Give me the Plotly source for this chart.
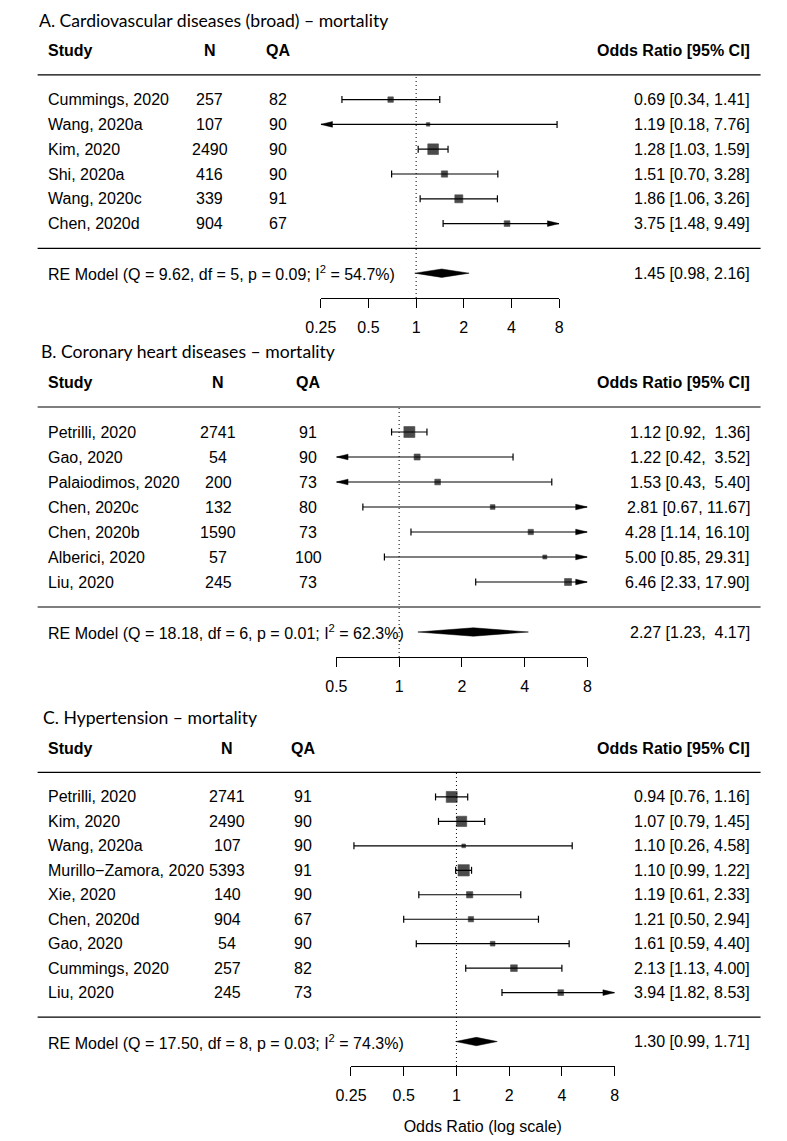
import math
import plotly.graph_objects as go

# ---------------- data ----------------
A_title = "A. Cardiovascular diseases (broad) – mortality"
A_study = ["Cummings, 2020", "Wang, 2020a", "Kim, 2020", "Shi, 2020a", "Wang, 2020c", "Chen, 2020d"]
A_n = [257, 107, 2490, 416, 339, 904]
A_qa = [82, 90, 90, 90, 91, 67]
A_or = [0.69, 1.19, 1.28, 1.51, 1.86, 3.75]
A_lo = [0.34, 0.18, 1.03, 0.70, 1.06, 1.48]
A_hi = [1.41, 7.76, 1.59, 3.28, 3.26, 9.49]
A_wt = [5.5, 3.5, 10.7, 6.3, 8.0, 5.7]          # relative study weight (box size)
A_re = [1.45, 0.98, 2.16]
A_stats = "Q = 9.62, df = 5, p = 0.09; I<sup>2</sup> = 54.7%"
A_ticks = [0.25, 0.5, 1, 2, 4, 8]
A_ticklab = ["0.25", "0.5", "1", "2", "4", "8"]

B_title = "B. Coronary heart diseases – mortality"
B_study = ["Petrilli, 2020", "Gao, 2020", "Palaiodimos, 2020", "Chen, 2020c", "Chen, 2020b", "Alberici, 2020", "Liu, 2020"]
B_n = [2741, 54, 200, 132, 1590, 57, 245]
B_qa = [91, 90, 73, 80, 73, 100, 73]
B_or = [1.12, 1.22, 1.53, 2.81, 4.28, 5.00, 6.46]
B_lo = [0.92, 0.42, 0.43, 0.67, 1.14, 0.85, 2.33]
B_hi = [1.36, 3.52, 5.40, 11.67, 16.10, 29.31, 17.90]
B_wt = [11.0, 6.0, 5.7, 4.7, 5.3, 4.0, 7.0]
B_re = [2.27, 1.23, 4.17]
B_stats = "Q = 18.18, df = 6, p = 0.01; I<sup>2</sup> = 62.3%"
B_ticks = [0.5, 1, 2, 4, 8]
B_ticklab = ["0.5", "1", "2", "4", "8"]

C_title = "C. Hypertension – mortality"
C_study = ["Petrilli, 2020", "Kim, 2020", "Wang, 2020a", "Murillo\u2212Zamora, 2020", "Xie, 2020",
           "Chen, 2020d", "Gao, 2020", "Cummings, 2020", "Liu, 2020"]
C_n = [2741, 2490, 107, 5393, 140, 904, 54, 257, 245]
C_qa = [91, 90, 90, 91, 90, 67, 90, 82, 73]
C_or = [0.94, 1.07, 1.10, 1.10, 1.19, 1.21, 1.61, 2.13, 3.94]
C_lo = [0.76, 0.79, 0.26, 0.99, 0.61, 0.50, 0.59, 1.13, 1.82]
C_hi = [1.16, 1.45, 4.58, 1.22, 2.33, 2.94, 4.40, 4.00, 8.53]
C_wt = [11.0, 10.3, 3.7, 11.3, 6.3, 5.3, 4.7, 6.7, 5.7]
C_re = [1.30, 0.99, 1.71]
C_stats = "Q = 17.50, df = 8, p = 0.03; I<sup>2</sup> = 74.3%"
C_ticks = [0.25, 0.5, 1, 2, 4, 8]
C_ticklab = ["0.25", "0.5", "1", "2", "4", "8"]

X_LABEL = "Odds Ratio (log scale)"
XMAX = 8

# ---------------- styling / layout constants ----------------
PAGE_W, PAGE_H = 787, 1141
OFF = 8                      # default page margin around the plot div
W, H = PAGE_W - OFF, PAGE_H - OFF
FONT = "Liberation Sans, Arial, sans-serif"
TFONT = "Lato, Open Sans, sans-serif"
FS = 16
TFS = 17.6
NB = "\u00a0"
ARROW_LEN, ARROW_HALF = 12, 2.8
CAP = 5
DIAM_HALF = 4.2
LW = 1.2
LEFT_PX, RIGHT_PX, STUDY_PX, ORCOL_PX = 22, 765, 32, 755

panel_geo = [
    dict(title_x=22.5, title_y=21, header=50, axis=298, x0=313, x1=558, xmin=0.25, ncol=199, qacol=269.5),
    dict(title_x=24, title_y=352, header=382, axis=657, x0=329, x1=587, xmin=0.5, ncol=207.7, qacol=300),
    dict(title_x=26, title_y=717, header=748, axis=1066, x0=344, x1=615, xmin=0.25, ncol=217, qacol=295),
]

panels = [
    dict(title=A_title, study=A_study, n=A_n, qa=A_qa, est=A_or, lo=A_lo, hi=A_hi, wt=A_wt,
         re=A_re, stats=A_stats, ticks=A_ticks, ticklab=A_ticklab),
    dict(title=B_title, study=B_study, n=B_n, qa=B_qa, est=B_or, lo=B_lo, hi=B_hi, wt=B_wt,
         re=B_re, stats=B_stats, ticks=B_ticks, ticklab=B_ticklab),
    dict(title=C_title, study=C_study, n=C_n, qa=C_qa, est=C_or, lo=C_lo, hi=C_hi, wt=C_wt,
         re=C_re, stats=C_stats, ticks=C_ticks, ticklab=C_ticklab),
]


def pxx(p):
    return (p - OFF) / W


def pxy(p):
    return 1 - (p - OFF) / H


fig = go.Figure()
annotations = []
shapes = []
layout_axes = {}

for i, (p, g) in enumerate(zip(panels, panel_geo)):
    sfx = "" if i == 0 else str(i + 1)
    xa, ya = "x" + sfx, "y" + sfx
    k = len(p["study"])
    rows = [k - j for j in range(k)]
    upy = (g["axis"] - g["header"]) / (k + 4)           # px per row unit
    lxmin, lxmax = math.log10(g["xmin"]), math.log10(XMAX)
    pxdec = (g["x1"] - g["x0"]) / (lxmax - lxmin)        # px per decade

    # --- CI lines, caps, arrows
    lx, ly, cx, cy, ax_, ay_ = [], [], [], [], [], []
    for r, lo, hi in zip(rows, p["lo"], p["hi"]):
        lo_c, hi_c = max(lo, g["xmin"]), min(hi, XMAX)
        lx += [lo_c, hi_c, None]
        ly += [r, r, None]
        for val, bound, d in ((lo, lo_c, -1), (hi, hi_c, 1)):
            if (d == -1 and val < g["xmin"]) or (d == 1 and val > XMAX):
                base = 10 ** (math.log10(bound) - d * ARROW_LEN / pxdec)
                hh = ARROW_HALF / upy
                ax_ += [bound, base, base, bound, None]
                ay_ += [r, r + hh, r - hh, r, None]
            else:
                cx.append(bound)
                cy.append(r)
    fig.add_trace(go.Scatter(x=lx, y=ly, mode="lines", line=dict(color="black", width=LW),
                             xaxis=xa, yaxis=ya, hoverinfo="skip", showlegend=False))
    fig.add_trace(go.Scatter(x=cx, y=cy, mode="markers", cliponaxis=False,
                             marker=dict(symbol="line-ns", size=CAP, color="black",
                                         line=dict(color="black", width=LW)),
                             xaxis=xa, yaxis=ya, hoverinfo="skip", showlegend=False))
    if ax_:
        fig.add_trace(go.Scatter(x=ax_, y=ay_, mode="lines", fill="toself", fillcolor="black",
                                 line=dict(color="black", width=0.5),
                                 xaxis=xa, yaxis=ya, hoverinfo="skip", showlegend=False))
    # --- squares (size ~ study weight)
    fig.add_trace(go.Scatter(x=p["est"], y=rows, mode="markers", cliponaxis=False,
                             marker=dict(symbol="square", size=p["wt"], color="black",
                                         line=dict(width=0.6, color="black")),
                             xaxis=xa, yaxis=ya, hoverinfo="skip", showlegend=False))
    # --- summary diamond
    est, lo, hi = p["re"]
    dh = DIAM_HALF / upy
    fig.add_trace(go.Scatter(x=[lo, est, hi, est, lo], y=[-1, -1 + dh, -1, -1 - dh, -1],
                             mode="lines", fill="toself", fillcolor="black",
                             line=dict(color="black", width=0.5),
                             xaxis=xa, yaxis=ya, hoverinfo="skip", showlegend=False))
    # --- reference line
    fig.add_trace(go.Scatter(x=[1, 1], y=[-2, k + 1], mode="lines",
                             line=dict(color="black", width=1, dash="1px,3px"),
                             xaxis=xa, yaxis=ya, hoverinfo="skip", showlegend=False))

    # --- separators
    for yv in (k + 1, 0):
        shapes.append(dict(type="line", xref="paper", yref=ya, x0=pxx(LEFT_PX), x1=pxx(RIGHT_PX),
                           y0=yv, y1=yv, line=dict(color="black", width=LW)))

    # --- text
    base_font = dict(family=FONT, size=FS, color="black")

    def txt(x, y, s, anchor):
        annotations.append(dict(xref="paper", yref=ya, x=pxx(x), y=y, text=s, showarrow=False,
                                xanchor=anchor, yanchor="middle", font=base_font, borderpad=0))

    annotations.append(dict(xref="paper", yref="paper", x=pxx(g["title_x"]), y=pxy(g["title_y"]),
                            text=p["title"], showarrow=False, xanchor="left", yanchor="middle",
                            borderpad=0, font=dict(family=TFONT, size=TFS, color="black")))
    txt(STUDY_PX, k + 2, "<b>Study</b>", "left")
    txt(g["ncol"], k + 2, "<b>N</b>", "center")
    txt(g["qacol"], k + 2, "<b>QA</b>", "center")
    txt(ORCOL_PX, k + 2, "<b>Odds Ratio [95% CI]</b>", "right")

    all_e = p["est"] + [p["re"][0]]
    all_l = p["lo"] + [p["re"][1]]
    all_h = p["hi"] + [p["re"][2]]
    we = max(len(f"{v:.2f}") for v in all_e)
    wl = max(len(f"{v:.2f}") for v in all_l)
    wh = max(len(f"{v:.2f}") for v in all_h)

    def fmt(e, l, h):
        return (f"{e:.2f}".rjust(we, NB) + " [" + f"{l:.2f}".rjust(wl, NB) + ", "
                + f"{h:.2f}".rjust(wh, NB) + "]")

    for r, s, n, q, e, l, h in zip(rows, p["study"], p["n"], p["qa"], p["est"], p["lo"], p["hi"]):
        txt(STUDY_PX, r, s, "left")
        txt(g["ncol"], r, str(n), "center")
        txt(g["qacol"], r, str(q), "center")
        txt(ORCOL_PX, r, fmt(e, l, h), "right")
    txt(STUDY_PX, -1, "RE Model (" + p["stats"] + ")", "left")
    txt(ORCOL_PX, -1, fmt(*p["re"]), "right")

    eps = 1e-4
    xdict = dict(domain=[pxx(g["x0"]), pxx(g["x1"])], type="log", range=[lxmin - eps, lxmax + eps],
                 anchor=ya, tickvals=p["ticks"], ticktext=p["ticklab"], ticks="outside", ticklen=9,
                 tickwidth=LW, tickcolor="black", showline=True, linecolor="black", linewidth=LW,
                 showgrid=False, zeroline=False, ticklabelstandoff=6,
                 tickfont=dict(family=FONT, size=FS, color="black"), fixedrange=True)
    if i == 2:
        xdict["title"] = dict(text=X_LABEL, font=dict(family=FONT, size=FS, color="black"), standoff=17)
    ydict = dict(domain=[pxy(g["axis"]), pxy(g["header"])], range=[-2, k + 2], visible=False,
                 fixedrange=True, anchor=xa)
    layout_axes["xaxis" + sfx] = xdict
    layout_axes["yaxis" + sfx] = ydict

fig.update_layout(width=W, height=H, margin=dict(l=0, r=0, t=0, b=0),
                  paper_bgcolor="white", plot_bgcolor="white",
                  annotations=annotations, shapes=shapes, showlegend=False, **layout_axes)

fig.write_html("out.html")
